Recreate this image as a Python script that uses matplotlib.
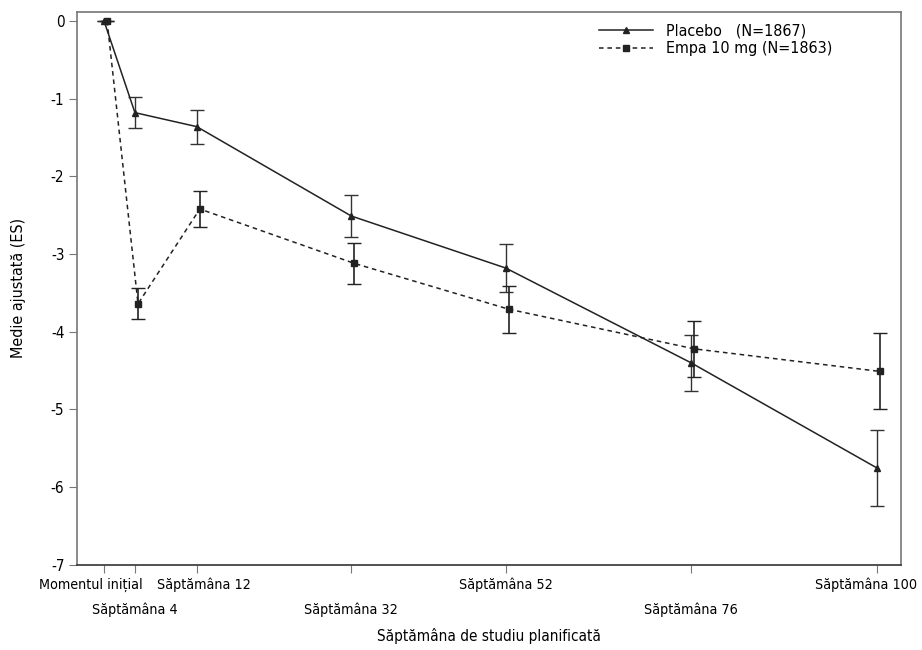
import matplotlib
matplotlib.use("Agg")
import matplotlib.pyplot as plt
from matplotlib.lines import Line2D
from matplotlib.transforms import ScaledTranslation
import numpy as np

# Reference uses a condensed face
plt.rcParams['font.family'] = ['DejaVu Sans']
plt.rcParams['font.stretch'] = 'condensed'

# Study weeks and adjusted means (SE)
weeks = [0, 4, 12, 32, 52, 76, 100]
week_labels = ['Momentul inițial', 'Săptămâna 4', 'Săptămâna 12', 'Săptămâna 32',
               'Săptămâna 52', 'Săptămâna 76', 'Săptămâna 100']

placebo_mean = [0, -1.18, -1.36, -2.51, -3.18, -4.40, -5.75]
placebo_se = [0, 0.20, 0.22, 0.27, 0.31, 0.36, 0.49]

empa_mean = [0, -3.64, -2.42, -3.12, -3.71, -4.22, -4.51]
empa_se = [0, 0.20, 0.23, 0.26, 0.30, 0.36, 0.49]

fig = plt.figure(figsize=(9.22, 6.5), dpi=100)
ax = fig.add_axes([0.0835, 0.131, 0.894, 0.8505])

x = np.array(weeks, dtype=float)
dodge = 0.4  # small horizontal offset so bars don't overlap

ax.errorbar(x, placebo_mean, yerr=placebo_se, color='#222222', lw=1.1,
            marker='^', ms=5, capsize=5, elinewidth=1.0, ecolor='#333333')
ax.errorbar(x + dodge, empa_mean, yerr=empa_se, color='#222222', lw=1.1,
            ls=(0, (3, 2.5)), marker='s', ms=5, capsize=5, elinewidth=1.2,
            ecolor='#222222')

ax.set_xlim(-3.5, 103.2)
ax.set_ylim(-7, 0.115)
ax.set_yticks(range(-7, 1))
ax.set_yticklabels([str(v) for v in range(-7, 1)], fontsize=11)

for sp in ax.spines.values():
    sp.set_color('#777777')
    sp.set_linewidth(1.2)
ax.spines['bottom'].set_color('#333333')
ax.tick_params(axis='both', length=6, color='#777777', pad=3)

# labels in two staggered rows: even ones as major ticks, odd ones as minor ticks
ax.set_xticks(weeks[0::2])
ax.set_xticklabels(week_labels[0::2], fontsize=10.3)
ax.set_xticks(weeks[1::2], minor=True)
ax.set_xticklabels(week_labels[1::2], minor=True, fontsize=10.3)
ax.tick_params(axis='x', which='minor', length=6, width=0.8, color='#777777', pad=21)

# nudge crowded labels sideways (pixels at dpi 100)
shifts = {0: -13, 1: 7, 3: -10}
for i, lab in enumerate(ax.get_xticklabels()):
    if i in shifts:
        lab.set_transform(lab.get_transform() + ScaledTranslation(shifts[i] / 100, 0, fig.dpi_scale_trans))

ax.set_ylabel('Medie ajustată (ES)', fontsize=11.5, labelpad=18)
ax.set_xlabel('Săptămâna de studiu planificată', fontsize=11, labelpad=8)

handles = [
    Line2D([], [], color='#222222', lw=1.1, marker='^', ms=4),
    Line2D([], [], color='#222222', lw=1.1, ls=(0, (3, 2.5)), marker='s', ms=4),
]
ax.legend(handles, ['Placebo   (N=1867)', 'Empa 10 mg (N=1863)'],
          loc='upper right', bbox_to_anchor=(0.93, 1.0), frameon=False,
          fontsize=11.5, handlelength=3.4, borderaxespad=0.3, labelspacing=0.2)

fig.savefig('out.png', dpi=100)
